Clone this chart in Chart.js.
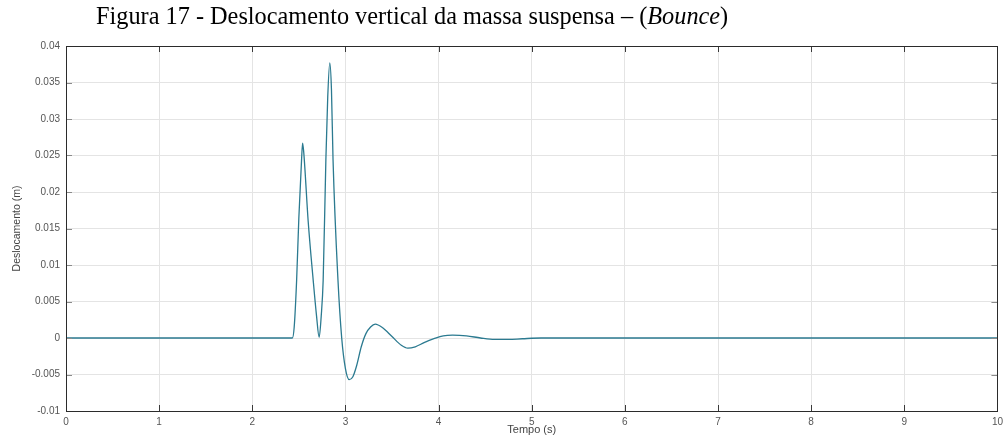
<!DOCTYPE html>
<html>
<head>
<meta charset="utf-8">
<script src="https://cdn.jsdelivr.net/npm/chart.js@4.4.1/dist/chart.umd.min.js"></script>
<style>
  html, body { margin: 0; padding: 0; background: #fff; }
  #wrap { position: relative; width: 1008px; height: 441px; }
  #title {
    position: absolute; left: 96px; top: 3px;
    font-family: "Liberation Serif", "Times New Roman", serif;
    font-size: 24.3px; color: #000; white-space: nowrap; line-height: 1.1;
  }
  canvas { position: absolute; left: 0; top: 0; }
</style>
</head>
<body>
<div id="wrap">
  <canvas id="bounce" width="1008" height="441"></canvas>
  <div id="title">Figura 17 - Deslocamento vertical da massa suspensa – (<i>Bounce</i>)</div>
</div>
<script>
// time (s) and vertical displacement of the sprung mass (m)
const tempo = [0, 1, 2, 2.43, 2.45, 2.476, 2.50, 2.529, 2.54, 2.552, 2.60, 2.654, 2.69, 2.718,
  2.74, 2.761, 2.79, 2.81, 2.832, 2.85, 2.867, 2.92, 2.96, 3.00, 3.04, 3.08, 3.12, 3.17, 3.22,
  3.27, 3.32, 3.40, 3.50, 3.60, 3.67, 3.75, 3.85, 3.95, 4.05, 4.15, 4.30, 4.45, 4.60, 4.75,
  4.90, 5.10, 6, 7, 8, 9, 10];
const deslocamento = [0, 0, 0, 0, 0.0015, 0.0079, 0.0165, 0.0244, 0.0267, 0.0255, 0.016, 0.0079, 0.003, 0.0001,
  0.003, 0.0079, 0.0244, 0.033, 0.0377, 0.034, 0.0244, 0.0079, 0.0, -0.0042, -0.0057, -0.0053, -0.0038, -0.0012, 0.0006,
  0.0015, 0.0019, 0.0014, 0.0002, -0.0010, -0.0014, -0.0012, -0.0006, -0.0001, 0.0003, 0.0004, 0.0003, 0.0, -0.0002, -0.0002,
  -0.0001, 0, 0, 0, 0, 0, 0];

const xTicks = [0, 1, 2, 3, 4, 5, 6, 7, 8, 9, 10];
const yTicks = [-0.01, -0.005, 0, 0.005, 0.01, 0.015, 0.02, 0.025, 0.03, 0.035, 0.04];
const yTickLabels = ['-0.01', '-0.005', '0', '0.005', '0.01', '0.015', '0.02', '0.025', '0.03', '0.035', '0.04'];

const points = tempo.map((t, i) => ({ x: t, y: deslocamento[i] }));

// box around the axes plus inward tick marks on all four sides
const boxTicks = {
  id: 'boxTicks',
  afterDraw(chart) {
    const { ctx, chartArea: a, scales: { x, y } } = chart;
    ctx.save();
    ctx.lineWidth = 1;
    ctx.strokeStyle = '#3a3a3a';
    xTicks.forEach(v => {
      const px = Math.round(x.getPixelForValue(v)) + 0.5;
      ctx.beginPath();
      ctx.moveTo(px, a.bottom); ctx.lineTo(px, a.bottom - 6);
      ctx.moveTo(px, a.top); ctx.lineTo(px, a.top + 6);
      ctx.stroke();
    });
    ctx.strokeStyle = '#8a8a8a';
    yTicks.forEach(v => {
      const py = Math.round(y.getPixelForValue(v)) + 0.5;
      ctx.beginPath();
      ctx.moveTo(a.left, py); ctx.lineTo(a.left + 6, py);
      ctx.moveTo(a.right, py); ctx.lineTo(a.right - 6, py);
      ctx.stroke();
    });
    ctx.strokeStyle = '#2b2b2b';
    ctx.strokeRect(Math.round(a.left) + 0.5, Math.round(a.top) + 0.5,
      Math.round(a.right - a.left), Math.round(a.bottom - a.top));
    ctx.restore();
  }
};

new Chart(document.getElementById('bounce'), {
  type: 'line',
  data: {
    datasets: [{
      data: points,
      borderColor: '#2b7a90',
      borderWidth: 1.3,
      pointRadius: 0,
      fill: false,
      cubicInterpolationMode: 'monotone'
    }]
  },
  options: {
    responsive: false,
    animation: false,
    layout: { padding: { top: 46, right: 5, left: 0, bottom: 0 } },
    plugins: { legend: { display: false }, tooltip: { enabled: false } },
    scales: {
      x: {
        type: 'linear', min: 0, max: 10,
        afterBuildTicks: s => { s.ticks = xTicks.map(v => ({ value: v })); },
        afterFit: s => { s.height = 30; },
        grid: { color: '#e4e4e4', drawTicks: false },
        border: { display: false },
        ticks: { padding: 5, color: '#555', font: { family: 'Liberation Sans', size: 10 } },
        title: {
          display: true, text: 'Tempo (s)', color: '#444',
          font: { family: 'Liberation Sans', size: 11 }, padding: { top: 0, bottom: 4 }
        }
      },
      y: {
        type: 'linear', min: -0.01, max: 0.04,
        afterBuildTicks: s => { s.ticks = yTicks.map(v => ({ value: v })); },
        afterFit: s => { s.width = 66; },
        grid: { color: '#e4e4e4', drawTicks: false },
        border: { display: false },
        ticks: {
          padding: 6, color: '#555', font: { family: 'Liberation Sans', size: 10 },
          callback: (v, i) => yTickLabels[i]
        },
        title: {
          display: true, text: 'Deslocamento (m)', color: '#444',
          font: { family: 'Liberation Sans', size: 10.5 }, padding: { top: 11, bottom: 0 }
        }
      }
    }
  },
  plugins: [boxTicks]
});
</script>
</body>
</html>
